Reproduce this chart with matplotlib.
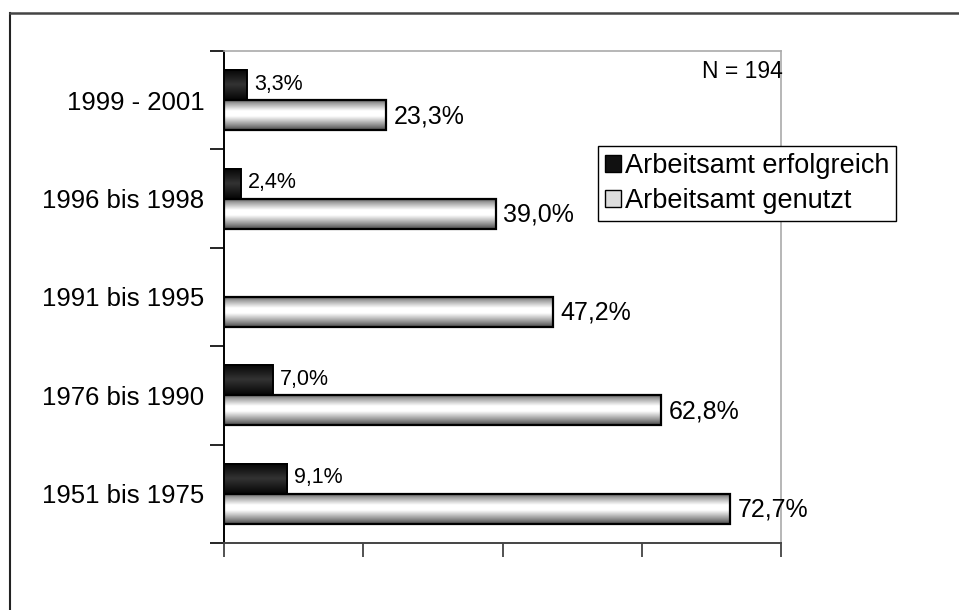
import numpy as np
import matplotlib
matplotlib.use("Agg")
import matplotlib.pyplot as plt
from matplotlib.lines import Line2D
from matplotlib.patches import Patch

plt.rcParams['font.family'] = ['Liberation Sans', 'DejaVu Sans']

# Zeiträume (von oben nach unten) und Anteile in Prozent
zeitraeume = ["1999 - 2001", "1996 bis 1998", "1991 bis 1995", "1976 bis 1990", "1951 bis 1975"]
erfolgreich = [3.3, 2.4, 0.0, 7.0, 9.1]
genutzt = [23.3, 39.0, 47.2, 62.8, 72.7]
x_ticks = [0, 20, 40, 60, 80]
serien = ["Arbeitsamt erfolgreich", "Arbeitsamt genutzt"]
stichprobe = "N = 194"

W, H = 959, 610
fig = plt.figure(figsize=(W / 100, H / 100), dpi=100)
ax = fig.add_axes([224 / W, (H - 543) / H, (781 - 224) / W, (543 - 51) / H])

y = np.arange(len(zeitraeume))
bh = 0.305

# Farbverläufe für die Balken (vertikal)
def verlauf(stops, werte, n=64):
    t = np.linspace(0, 1, n)
    g = np.interp(t, stops, werte)
    return np.dstack([g, g, g]).reshape(n, 1, 3)

grad_schwarz = verlauf([0, 0.5, 1], [0.02, 0.2, 0.02])
grad_weiss = verlauf([0, 0.12, 0.38, 0.55, 0.85, 1], [0.3, 0.6, 1.0, 1.0, 0.55, 0.3])

bars_e = ax.barh(y - bh / 2, erfolgreich, height=bh, facecolor='none',
                 edgecolor='black', linewidth=1.4, zorder=3)
bars_g = ax.barh(y + bh / 2, genutzt, height=bh, facecolor='none',
                 edgecolor='black', linewidth=1.6, zorder=3)

for bars, grad in ((bars_e, grad_schwarz), (bars_g, grad_weiss)):
    for p in bars:
        w = p.get_width()
        if w <= 0:
            p.set_visible(False)
            continue
        y0, y1 = p.get_y(), p.get_y() + p.get_height()
        ax.imshow(grad, extent=(0, w, y1, y0), aspect='auto', zorder=2,
                  interpolation='bilinear')

def fmt(v):
    return f"{v:.1f}".replace('.', ',') + '%'

for yi, v in zip(y, erfolgreich):
    if v > 0:
        ax.text(v + 1.0, yi - bh / 2 - 0.01, fmt(v), fontsize=15.5, va='center', ha='left')
for yi, v in zip(y, genutzt):
    ax.text(v + 1.1, yi + bh / 2 + 0.01, fmt(v), fontsize=18, va='center', ha='left')

ax.set_xlim(x_ticks[0], x_ticks[-1])
ax.set_ylim(len(zeitraeume) - 0.5, -0.5)
ax.set_xticks(x_ticks)
ax.set_xticklabels([])
ax.tick_params(axis='x', direction='out', length=10, width=1.2, color='#333333')

ax.set_yticks(y)
ax.set_yticklabels(zeitraeume, fontsize=18.5)
ax.set_yticks(np.arange(len(zeitraeume) + 1) - 0.5, minor=True)
ax.tick_params(axis='y', which='major', length=0, pad=14)
ax.tick_params(axis='y', which='minor', direction='out', length=10, width=1.2, color='black')

ax.spines['left'].set_color('black')
ax.spines['left'].set_linewidth(1.4)
ax.spines['bottom'].set_color('#444444')
ax.spines['bottom'].set_linewidth(1.4)
for s in ('top', 'right'):
    ax.spines[s].set_color('#aaaaaa')
    ax.spines[s].set_linewidth(1.2)

ax.text(702 / W, 1 - 71 / H, stichprobe, transform=fig.transFigure, fontsize=16.5,
        va='center', ha='left')

handles = [Patch(facecolor='#111111', edgecolor='black', linewidth=1),
           Patch(facecolor='#dddddd', edgecolor='black', linewidth=1)]
leg = fig.legend(handles, serien, loc='upper left', bbox_to_anchor=(598 / W, 1 - 146 / H),
                 fontsize=19.5, frameon=True, fancybox=False, edgecolor='black',
                 framealpha=1, borderpad=0.25, handlelength=0.6, handleheight=0.6,
                 handletextpad=0.15, labelspacing=0.35, borderaxespad=0)
leg.get_frame().set_linewidth(1.0)

# Äußerer Rahmen
fig.add_artist(Line2D([10 / W, 10 / W], [0, 1 - 13 / H], color='#222222', lw=1.5,
                      transform=fig.transFigure))
fig.add_artist(Line2D([10 / W, 1], [1 - 13 / H, 1 - 13 / H], color='#444444', lw=1.8,
                      transform=fig.transFigure))

fig.savefig("out.png", dpi=100)
